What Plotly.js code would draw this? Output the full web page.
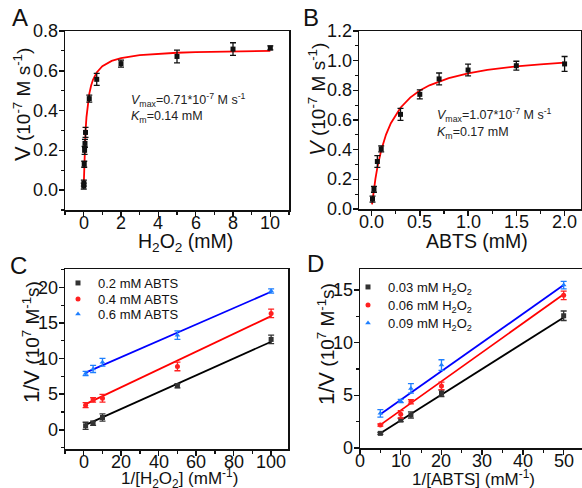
<!DOCTYPE html>
<html>
<head>
<meta charset="utf-8">
<script src="https://cdn.plot.ly/plotly-3.0.1.min.js"></script>
<style>
html,body{margin:0;padding:0;background:#fff;}
#chart{width:582px;height:488px;}
</style>
</head>
<body>
<div id="chart"></div>
<script>
// ---------- Panel A: V vs H2O2 ----------
const aX = [0.005, 0.01, 0.03, 0.05, 0.07, 0.1, 0.3, 0.7, 2, 5, 8, 10];
const aY = [0.02, 0.035, 0.13, 0.20, 0.235, 0.29, 0.46, 0.557, 0.636, 0.672, 0.709, 0.715];
const aErr = [0.015, 0.015, 0.015, 0.02, 0.02, 0.025, 0.018, 0.03, 0.018, 0.032, 0.032, 0.01];
const aVmax = 0.71, aKm = 0.14;
const aFitX = [0.005, 0.01, 0.02, 0.03, 0.05, 0.07, 0.1, 0.15, 0.2, 0.3, 0.4, 0.5, 0.7, 1, 1.5, 2, 3, 4, 5, 6, 7, 8, 9, 10];
const aXTicks = [0, 2, 4, 6, 8, 10];
const aXTickText = ['0', '2', '4', '6', '8', '10'];
const aYTicks = [0, 0.2, 0.4, 0.6, 0.8];
const aYTickText = ['0.0', '0.2', '0.4', '0.6', '0.8'];

// ---------- Panel B: V vs ABTS ----------
const bX = [0.01, 0.025, 0.06, 0.1, 0.3, 0.5, 0.7, 1.0, 1.5, 2.0];
const bY = [0.067, 0.133, 0.32, 0.405, 0.638, 0.773, 0.877, 0.937, 0.966, 0.978];
const bErr = [0.02, 0.02, 0.04, 0.02, 0.04, 0.03, 0.04, 0.04, 0.03, 0.05];
const bVmax = 1.07, bKm = 0.17;
const bFitX = [0.005, 0.01, 0.02, 0.04, 0.06, 0.08, 0.1, 0.15, 0.2, 0.3, 0.4, 0.5, 0.6, 0.8, 1.0, 1.2, 1.5, 1.75, 2.0];
const bXTicks = [0, 0.5, 1.0, 1.5, 2.0];
const bXTickText = ['0.0', '0.5', '1.0', '1.5', '2.0'];
const bYTicks = [0, 0.2, 0.4, 0.6, 0.8, 1.0, 1.2];
const bYTickText = ['0.0', '0.2', '0.4', '0.6', '0.8', '1.0', '1.2'];

// ---------- Panel C: Lineweaver-Burk vs 1/[H2O2] ----------
const cX = [1, 5, 10, 50, 100];
const cLabels = ['0.2 mM ABTS', '0.4 mM ABTS', '0.6 mM ABTS'];
const cY1 = [0.56, 0.93, 1.73, 6.2, 12.7];
const cY2 = [3.46, 4.2, 4.44, 8.9, 16.36];
const cY3 = [7.9, 8.55, 9.5, 13.3, 19.5];
const cE1 = [0.5, 0.3, 0.5, 0.3, 0.6];
const cE2 = [0.35, 0.3, 0.55, 0.6, 0.6];
const cE3 = [0.3, 0.5, 0.55, 0.6, 0.3];
const cSlope = [0.118, 0.125, 0.1147];
const cIntercept = [0.58, 3.48, 7.93];
const cXTicks = [0, 20, 40, 60, 80, 100];
const cXTickText = ['0', '20', '40', '60', '80', '100'];
const cYTicks = [0, 5, 10, 15, 20];
const cYTickText = ['0', '5', '10', '15', '20'];

// ---------- Panel D: Lineweaver-Burk vs 1/[ABTS] ----------
const dX = [5, 10, 12.5, 20, 50];
const dLabels = ['0.03 mM H<sub>2</sub>O<sub>2</sub>', '0.06 mM H<sub>2</sub>O<sub>2</sub>', '0.09 mM H<sub>2</sub>O<sub>2</sub>'];
const dY1 = [1.39, 2.66, 3.13, 5.19, 12.56];
const dY2 = [2.18, 3.2, 4.4, 5.9, 14.5];
const dY3 = [3.29, 4.46, 5.66, 7.88, 15.47];
const dE1 = [0.1, 0.15, 0.3, 0.3, 0.45];
const dE2 = [0.1, 0.35, 0.2, 0.35, 0.4];
const dE3 = [0.35, 0.15, 0.45, 0.5, 0.35];
const dSlope = [0.2444, 0.2756, 0.2727];
const dIntercept = [0.18, 0.82, 1.84];
const dXTicks = [0, 10, 20, 30, 40, 50];
const dXTickText = ['0', '10', '20', '30', '40', '50'];
const dYTicks = [0, 5, 10, 15];
const dYTickText = ['0', '5', '10', '15'];

const FONT = 'Liberation Sans, Arial, sans-serif';
const INK = '#111';
const colors = ['#333333', '#ff2020', '#1e7fff'];
const symbols = ['square', 'circle', 'triangle-up'];
const lineColors = ['#000000', '#ff0000', '#0000ff'];

function mm(xs, vmax, km) { return xs.map(x => vmax * x / (km + x)); }
function lin(xs, s, b) { return xs.map(x => s * x + b); }

const traces = [];
// A
traces.push({x: aFitX, y: mm(aFitX, aVmax, aKm), mode: 'lines', line: {color: '#ff0000', width: 1.8}, xaxis: 'x', yaxis: 'y', showlegend: false, hoverinfo: 'skip'});
traces.push({x: aX, y: aY, mode: 'markers', marker: {symbol: 'square', size: 5, color: '#111'},
  error_y: {type: 'data', array: aErr, color: '#111', thickness: 1.3, width: 3}, xaxis: 'x', yaxis: 'y', showlegend: false});
// B
traces.push({x: bFitX, y: mm(bFitX, bVmax, bKm), mode: 'lines', line: {color: '#ff0000', width: 1.8}, xaxis: 'x2', yaxis: 'y2', showlegend: false, hoverinfo: 'skip'});
traces.push({x: bX, y: bY, mode: 'markers', marker: {symbol: 'square', size: 5, color: '#111'},
  error_y: {type: 'data', array: bErr, color: '#111', thickness: 1.3, width: 3}, xaxis: 'x2', yaxis: 'y2', showlegend: false});
// C
const cYs = [cY1, cY2, cY3], cEs = [cE1, cE2, cE3];
for (let i = 0; i < 3; i++) {
  const lx = [cX[0], cX[cX.length - 1]];
  traces.push({x: lx, y: lin(lx, cSlope[i], cIntercept[i]), mode: 'lines', line: {color: lineColors[i], width: 1.8}, xaxis: 'x3', yaxis: 'y3', showlegend: false, hoverinfo: 'skip'});
}
const cLegends = ['legend', 'legend2', 'legend3'];
for (let i = 0; i < 3; i++) {
  traces.push({x: cX, y: cYs[i], name: cLabels[i], mode: 'markers', marker: {symbol: symbols[i], size: 5, color: colors[i]},
    error_y: {type: 'data', array: cEs[i], color: colors[i], thickness: 1.3, width: 3}, xaxis: 'x3', yaxis: 'y3', legend: cLegends[i]});
}
// D
const dYs = [dY1, dY2, dY3], dEs = [dE1, dE2, dE3];
for (let i = 0; i < 3; i++) {
  const lx = [dX[0], dX[dX.length - 1]];
  traces.push({x: lx, y: lin(lx, dSlope[i], dIntercept[i]), mode: 'lines', line: {color: lineColors[i], width: 1.8}, xaxis: 'x4', yaxis: 'y4', showlegend: false, hoverinfo: 'skip'});
}
const dLegends = ['legend4', 'legend5', 'legend6'];
for (let i = 0; i < 3; i++) {
  traces.push({x: dX, y: dYs[i], name: dLabels[i], mode: 'markers', marker: {symbol: symbols[i], size: 5, color: colors[i]},
    error_y: {type: 'data', array: dEs[i], color: colors[i], thickness: 1.3, width: 3}, xaxis: 'x4', yaxis: 'y4', legend: dLegends[i]});
}

function minor(d) { return {ticks: 'outside', ticklen: 3, tickwidth: 1.2, tickcolor: INK, dtick: d, showgrid: false}; }
function ax(extra) {
  return Object.assign({
    showline: true, mirror: true, linecolor: INK, linewidth: 1.5,
    ticks: 'outside', ticklen: 5, tickwidth: 1.5, tickcolor: INK, tickmode: 'array',
    showticklabels: false, showgrid: false, zeroline: false, fixedrange: true
  }, extra);
}

const W = 582, H = 488;
const px = (a, b) => [a / W, b / W];
const py = (top, bottom) => [(H - bottom) / H, (H - top) / H];

const yTitleV = '<span style="font-size:22px">V</span> (10<sup>-7</sup> M s<sup>-1</sup>)';
const yTitleVi = '<span style="font-size:22px"><i>V</i></span> (10<sup>-7</sup> M s<sup>-1</sup>)';
const yTitleInv = '<span style="font-size:22px">1/V</span> (10<sup>7</sup> M<sup>-1</sup>s)';

function label(text, x, y, size, extra) {
  return Object.assign({text: text, x: x / W, y: (H - y) / H, xref: 'paper', yref: 'paper', xanchor: 'center', yanchor: 'middle', showarrow: false, font: {family: FONT, size: size, color: INK}}, extra || {});
}
function legendAt(x, y) {
  return {x: x / W, y: (H - y) / H, xanchor: 'left', yanchor: 'middle', bgcolor: 'rgba(0,0,0,0)', borderwidth: 0,
    font: {family: FONT, size: 13, color: INK}, itemclick: false, tracegroupgap: 0};
}
// tick labels placed through the axes' own scales
function xTickLabels(vals, texts, xref, axisBottom) {
  return vals.map((v, i) => ({text: texts[i], x: v, xref: xref, y: (H - (axisBottom + 13)) / H, yref: 'paper',
    xanchor: 'center', yanchor: 'middle', showarrow: false, font: {family: FONT, size: 18, color: INK}}));
}
function yTickLabels(vals, texts, yref, axisLeft) {
  return vals.map((v, i) => ({text: texts[i], y: v, yref: yref, x: (axisLeft - 5) / W, xref: 'paper',
    xanchor: 'right', yanchor: 'middle', showarrow: false, font: {family: FONT, size: 18, color: INK}}));
}

const dom = {
  ax: px(65, 289), ay: py(31, 210),
  bx: px(359, 581), by: py(31, 209),
  cx: px(65, 288), cy: py(269, 449),
  dx: px(360, 582), dy: py(269, 448)
};
const rng = {
  ax: [-1, 11], ay: [-0.1, 0.8], bx: [-0.13, 2.17], by: [0, 1.2],
  cx: [-10, 109], cy: [-2.7, 22.6], dx: [0, 54.5], dy: [0, 17]
};

const annotations = [
  label('A', 20, 18, 24),
  label('B', 311, 18, 24),
  label('C', 18, 265, 24),
  label('D', 315, 264, 24),
  // axis titles
  label('H<sub>2</sub>O<sub>2</sub> (mM)', 186, 242, 19.5),
  label('ABTS (mM)', 477, 241, 19.5),
  label('1/[H<sub>2</sub>O<sub>2</sub>] (mM<sup>-1</sup>)', 179, 478, 17),
  label('1/[ABTS] (mM<sup>-1</sup>)', 473, 478, 17),
  label(yTitleV, 22, 105, 19, {textangle: -90}),
  label(yTitleVi, 317, 100, 19, {textangle: -90}),
  label(yTitleInv, 31, 342, 19, {textangle: -90}),
  label(yTitleInv, 326, 344, 19, {textangle: -90}),
  // fit parameters
  label('<i>V</i><sub>max</sub>=0.71*10<sup>-7</sup> M s<sup>-1</sup>', 129, 100, 12.5, {xanchor: 'left', font: {family: FONT, size: 12.5, color: '#222'}}),
  label('<i>K</i><sub>m</sub>=0.14 mM', 129, 117, 12.5, {xanchor: 'left', font: {family: FONT, size: 12.5, color: '#222'}}),
  label('<i>V</i><sub>max</sub>=1.07*10<sup>-7</sup> M s<sup>-1</sup>', 435, 115, 12.5, {xanchor: 'left', font: {family: FONT, size: 12.5, color: '#222'}}),
  label('<i>K</i><sub>m</sub>=0.17 mM', 435, 133, 12.5, {xanchor: 'left', font: {family: FONT, size: 12.5, color: '#222'}})
].concat(
  xTickLabels(aXTicks, aXTickText, 'x', 210), yTickLabels(aYTicks, aYTickText, 'y', 65),
  xTickLabels(bXTicks, bXTickText, 'x2', 209), yTickLabels(bYTicks, bYTickText, 'y2', 359),
  xTickLabels(cXTicks, cXTickText, 'x3', 449), yTickLabels(cYTicks, cYTickText, 'y3', 65),
  xTickLabels(dXTicks, dXTickText, 'x4', 448), yTickLabels(dYTicks, dYTickText, 'y4', 360)
);

const layout = {
  width: W, height: H,
  margin: {l: 0, r: 0, t: 0, b: 0},
  paper_bgcolor: '#fff', plot_bgcolor: '#fff',
  font: {family: FONT, color: INK},
  xaxis: ax({domain: dom.ax, range: rng.ax, tickvals: aXTicks, minor: minor(1), anchor: 'y'}),
  yaxis: ax({domain: dom.ay, range: rng.ay, tickvals: aYTicks, minor: minor(0.1), anchor: 'x'}),
  xaxis2: ax({domain: dom.bx, range: rng.bx, tickvals: bXTicks, minor: minor(0.25), anchor: 'y2'}),
  yaxis2: ax({domain: dom.by, range: rng.by, tickvals: bYTicks, minor: minor(0.1), anchor: 'x2'}),
  xaxis3: ax({domain: dom.cx, range: rng.cx, tickvals: cXTicks, minor: minor(10), anchor: 'y3'}),
  yaxis3: ax({domain: dom.cy, range: rng.cy, tickvals: cYTicks, minor: minor(2.5), anchor: 'x3'}),
  xaxis4: ax({domain: dom.dx, range: rng.dx, tickvals: dXTicks, minor: minor(5), anchor: 'y4'}),
  yaxis4: ax({domain: dom.dy, range: rng.dy, tickvals: dYTicks, minor: minor(2.5), anchor: 'x4'}),
  legend: legendAt(58, 283),
  legend2: legendAt(58, 299),
  legend3: legendAt(58, 314),
  legend4: legendAt(348, 287),
  legend5: legendAt(348, 305),
  legend6: legendAt(348, 323),
  annotations: annotations
};

Plotly.newPlot('chart', traces, layout, {displayModeBar: false, staticPlot: true});
</script>
</body>
</html>
